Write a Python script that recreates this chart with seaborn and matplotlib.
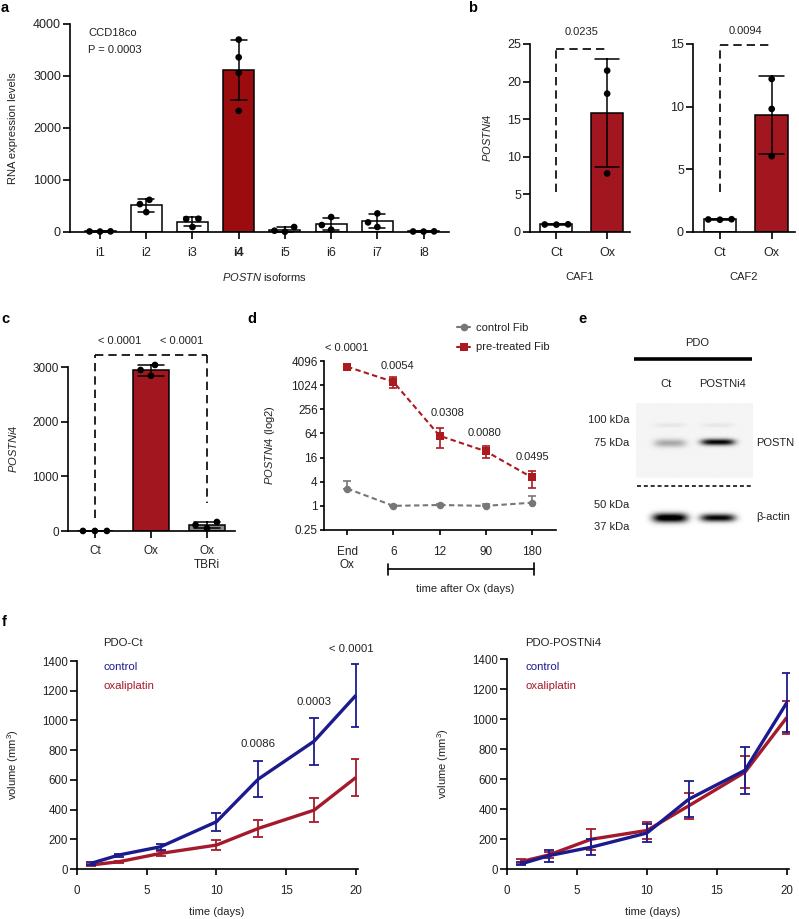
import numpy as np
import pandas as pd
import matplotlib
matplotlib.use("Agg")
import matplotlib.pyplot as plt
import seaborn as sns
from matplotlib.lines import Line2D

# ---------------- data ----------------
a_isoforms = ["i1", "i2", "i3", "i4", "i5", "i6", "i7", "i8"]
a_i1 = [12, 10, 8]
a_i2 = [536, 619, 383]
a_i3 = [255, 250, 96]
a_i4 = [3700, 3360, 3060, 2330]
a_i5 = [96, 25, 5]
a_i6 = [134, 287, 45]
a_i7 = [185, 357, 96]
a_i8 = [12, 10, 8]

b_groups = ["Ct", "Ox"]
b_caf1_ct = [1.0, 0.98, 1.02]
b_caf1_ox = [21.46, 18.4, 7.79]
b_caf2_ct = [1.0, 0.98, 1.02]
b_caf2_ox = [12.21, 9.82, 6.05]

c_groups = ["Ct", "Ox", "Ox\nTBRi"]
c_ct = [1.0, 1.1, 0.9]
c_ox = [2945, 3037, 2841]
c_tbri = [165, 110, 49]

d_labels = ["End\nOx", "6", "12", "90", "180"]
d_pre_mean = [2950, 1240, 56, 23, 5.1]
d_pre_sem = [150, 350, 29, 7.5, 2.3]
d_ctrl_mean = [2.7, 1.0, 1.05, 1.0, 1.2]
d_ctrl_sem = [1.4, 0.05, 0.08, 0.12, 0.6]
d_pvals = ["< 0.0001", "0.0054", "0.0308", "0.0080", "0.0495"]

e_lanes = ["Ct", "POSTNi4"]
e_postn_intensity = [0.30, 0.97]
e_actin_intensity = [1.15, 1.0]

f_days = [1, 3, 6, 10, 13, 17, 20]
f_ct_control = [38, 94, 150, 318, 605, 860, 1169]
f_ct_control_err = [8, 10, 20, 60, 121, 158, 213]
f_ct_oxali = [27, 49, 105, 161, 273, 396, 616]
f_ct_oxali_err = [6, 8, 15, 33, 58, 80, 123]
f_p4_control = [34, 89, 145, 240, 466, 658, 1110]
f_p4_control_err = [10, 40, 52, 60, 122, 157, 197]
f_p4_oxali = [49, 94, 198, 257, 422, 645, 1011]
f_p4_oxali_err = [15, 20, 70, 57, 88, 107, 110]
f_ct_pvals = ["0.0086", "0.0003", "< 0.0001"]

# ---------------- style ----------------
sns.set_theme(style="ticks")
plt.rcParams.update({
    "font.family": ["Liberation Sans", "DejaVu Sans"],
    "mathtext.fontset": "custom",
    "mathtext.rm": "Liberation Sans",
    "mathtext.it": "Liberation Sans:italic",
    "mathtext.bf": "Liberation Sans:bold",
    "font.size": 8,
    "axes.linewidth": 1.2,
    "axes.edgecolor": "black",
    "xtick.color": "black",
    "ytick.color": "black",
    "xtick.labelcolor": "#222222",
    "ytick.labelcolor": "#222222",
    "xtick.labelsize": 8.5,
    "ytick.labelsize": 8.5,
    "axes.labelsize": 8,
    "text.color": "#222222",
    "axes.labelcolor": "#222222",
})

RED_A = "#9a0c0e"
RED = "#a1161f"
RED_D = "#ab1a1f"
GRAY_D = "#777777"
GRAY_BAR = "#888888"
BLUE = "#1b1b8e"
RED_F = "#a51a2b"
DASH = (0, (5, 3))

W, H = 799, 919
fig = plt.figure(figsize=(W / 100, H / 100), dpi=100)


def add_ax(l, t, r, b):
    ax = fig.add_axes([l / W, 1 - b / H, (r - l) / W, (b - t) / H])
    ax.set_facecolor("none")
    return ax


def style(ax, xlen=5, xpad=6, ylen=5, ypad=1.5, lsize=8.5):
    sns.despine(ax=ax)
    ax.tick_params(axis="x", length=xlen, pad=xpad, width=1.2, labelsize=lsize)
    ax.tick_params(axis="y", length=ylen, pad=ypad, width=1.2, labelsize=lsize)


def ylab(ax, text, px, l, r):
    ax.set_ylabel(text, va="center")
    ax.yaxis.set_label_coords((px - l) / (r - l), 0.5)


def xlab(ax, text, py, t, b, cx=0.5):
    ax.set_xlabel(text, va="center")
    ax.xaxis.set_label_coords(cx, (b - py) / (b - t))


def bars_with_points(ax, groups, values, colors, width, capsize, spread):
    df = pd.DataFrame({
        "g": np.repeat(groups, [len(v) for v in values]),
        "v": np.concatenate(values),
    })
    sns.barplot(data=df, x="g", y="v", hue="g", order=groups, hue_order=groups,
                palette=dict(zip(groups, colors)), legend=False, saturation=1,
                errorbar="sd", capsize=capsize, width=width, edgecolor="black",
                linewidth=1.1, err_kws={"color": "black", "linewidth": 1.1}, ax=ax)
    n0 = len(ax.collections)
    sns.swarmplot(data=df, x="g", y="v", order=groups, color="black", size=4.8,
                  linewidth=spread, ax=ax)
    for c in ax.collections[n0:]:
        c.set_edgecolor("none")
        c.set_clip_on(False)
        c.set_zorder(5)
    for ln in ax.lines:
        ln.set_clip_on(False)


# overlay axes in pixel coordinates
ov = fig.add_axes([0, 0, 1, 1])
ov.set_xlim(0, W)
ov.set_ylim(H, 0)
ov.axis("off")

for lab, (x, y) in {"a": (1, 8), "b": (468, 8), "c": (1, 319), "d": (247, 319),
                    "e": (578, 319), "f": (2, 622)}.items():
    ov.text(x, y, lab, fontsize=10.5, fontweight="bold", ha="left", va="center", color="black")

# ---------------- panel a ----------------
L, T, R, B = 70, 24, 449, 232
axa = add_ax(L, T, R, B)
a_colors = ["white", "white", "white", RED_A, "white", "white", "white", "white"]
bars_with_points(axa, a_isoforms, [a_i1, a_i2, a_i3, a_i4, a_i5, a_i6, a_i7, a_i8],
                 a_colors, 0.67, 0.35, 2.4)
axa.set_xlim(-0.65, 7.55)
axa.set_ylim(0, 4000)
axa.set_yticks([0, 1000, 2000, 3000, 4000])
style(axa, lsize=9)
axa.get_xticklabels()[3].set_fontweight("bold")
ylab(axa, "RNA expression levels", 13, L, R)
xlab(axa, r"$\it{POSTN}$ isoforms", 277, T, B, cx=(265 - L) / (R - L))
ov.text(88, 33, "CCD18co", ha="left", va="center")
ov.text(88, 50, "P = 0.0003", ha="left", va="center")

# ---------------- panel b ----------------
for (L, R), ct, ox, ymax, yt, brk_lo, brk_hi, ptxt_y, pv, name, namex in [
        ((530, 630), b_caf1_ct, b_caf1_ox, 25, [0, 5, 10, 15, 20, 25], 5.3, 24.4, 26.6, "0.0235", "CAF1", 582),
        ((693, 795), b_caf2_ct, b_caf2_ox, 15, [0, 5, 10, 15], 3.2, 14.9, 16.0, "0.0094", "CAF2", 747)]:
    T, B = 44, 232
    ax = add_ax(L, T, R, B)
    bars_with_points(ax, b_groups, [ct, ox], ["white", RED], 0.63, 0.48, 3.2)
    ax.set_xlim(-0.52, 1.45)
    ax.set_ylim(0, ymax)
    ax.set_yticks(yt)
    style(ax, lsize=9)
    ax.plot([0, 0], [brk_lo, brk_hi], ls=DASH, color="black", lw=1.2, clip_on=False)
    ax.plot([0, 1], [brk_hi, brk_hi], ls=DASH, color="black", lw=1.2, clip_on=False)
    ax.text(0.5, ptxt_y, pv, ha="center", va="center")
    if name == "CAF1":
        ylab(ax, r"$\it{POSTNi4}$", 487, L, R)
    else:
        ax.set_ylabel("")
    xlab(ax, name, 277, T, B)

# ---------------- panel c ----------------
L, T, R, B = 68, 367, 235, 531
axc = add_ax(L, T, R, B)
bars_with_points(axc, c_groups, [c_ct, c_ox, c_tbri], ["white", RED, GRAY_BAR], 0.64, 0.45, 3.4)
axc.set_xlim(-0.48, 2.5)
axc.set_ylim(0, 3000)
axc.set_yticks([0, 1000, 2000, 3000])
style(axc, xpad=5)
axc.plot([0, 0], [232, 3214], ls=DASH, color="black", lw=1.2, clip_on=False)
axc.plot([0, 2], [3214, 3214], ls=DASH, color="black", lw=1.2, clip_on=False)
axc.plot([2, 2], [3214, 506], ls=DASH, color="black", lw=1.2, clip_on=False)
axc.text(0.45, 3476, "< 0.0001", ha="center", va="center")
axc.text(1.55, 3476, "< 0.0001", ha="center", va="center")
ylab(axc, r"$\it{POSTNi4}$", 13, L, R)
axc.set_xlabel("")

# ---------------- panel d ----------------
L, T, R, B = 324, 361, 556, 530
axd = add_ax(L, T, R, B)
d_pos = list(range(len(d_labels)))
sns.lineplot(x=d_pos, y=d_ctrl_mean, color=GRAY_D, marker="o", markersize=5.4,
             markeredgewidth=0, linewidth=1.5, errorbar=None, ax=axd)
axd.lines[-1].set_linestyle((0, (2.6, 1.6)))
sns.lineplot(x=d_pos, y=d_pre_mean, color=RED_D, marker="s", markersize=5.4,
             markeredgewidth=0, linewidth=1.5, errorbar=None, ax=axd)
axd.lines[-1].set_linestyle((0, (2.6, 1.6)))
axd.errorbar(d_pos, d_ctrl_mean, yerr=[np.zeros(len(d_pos)), d_ctrl_sem], fmt="none",
             ecolor=GRAY_D, elinewidth=1.2, capsize=3, capthick=1.2)
axd.errorbar(d_pos, d_pre_mean, yerr=d_pre_sem, fmt="none",
             ecolor=RED_D, elinewidth=1.2, capsize=3, capthick=1.2)
axd.set_yscale("log", base=2)
axd.set_ylim(0.25, 4096)
yt = [0.25, 1, 4, 16, 64, 256, 1024, 4096]
axd.set_yticks(yt)
axd.set_yticklabels(["0.25", "1", "4", "16", "64", "256", "1024", "4096"])
axd.minorticks_off()
axd.set_xlim(-0.5, 4.52)
axd.set_xticks(d_pos)
axd.set_xticklabels(d_labels, linespacing=1.1)
style(axd, xlen=3.5, xpad=8, ylen=3, ypad=1.5)
d_txt_pos = [(0, 8660), (1.09, 3070), (2.18, 203), (2.98, 64), (4.0, 17)]
for (x, y), t in zip(d_txt_pos, d_pvals):
    axd.text(x, y, t, ha="center", va="center", clip_on=False)
ylab(axd, r"$\it{POSTNi4}$ (log2)", 270, L, R)
handles = [Line2D([], [], color=GRAY_D, marker="o", markersize=5.5, lw=1.5, markeredgewidth=0),
           Line2D([], [], color=RED_D, marker="s", markersize=5.5, lw=1.5, markeredgewidth=0)]
axd.legend(handles, ["control Fib", "pre-treated Fib"], loc="upper left",
           bbox_to_anchor=(457 / W, 1 - 323 / H), bbox_transform=fig.transFigure,
           frameon=False, handlelength=1.2, handletextpad=0.5, labelspacing=0.85,
           fontsize=8, borderpad=0, borderaxespad=0)
ov.plot([388, 534], [569, 569], color="black", lw=1.2)
ov.plot([388, 388], [564, 575], color="black", lw=1.2)
ov.plot([534, 534], [563, 575], color="black", lw=1.2)
ov.text(465, 589, "time after Ox (days)", ha="center", va="center")

# ---------------- panel e (blot) ----------------
x0, x1, y0, y1 = 636, 753, 403, 535
X, Y = np.meshgrid(np.linspace(x0, x1, 240), np.linspace(y0, y1, 270))
img = np.where(Y < 478, 0.96, 1.0)
lane_x = [670, 718]


def band(cx, cy, hw, hh, amp):
    return amp * np.exp(-((X - cx) / hw) ** 4 - ((Y - cy) / hh) ** 2)


for cx in lane_x:
    img = img - band(cx, 425, 16, 2.2, 0.06)
img = img - band(lane_x[0], 443, 16, 4.0, e_postn_intensity[0])
img = img - band(lane_x[1], 442, 17, 3.2, e_postn_intensity[1])
img = img - band(lane_x[0], 518, 17.5, 4.6, e_actin_intensity[0])
img = img - band(lane_x[1], 518, 17.5, 3.9, e_actin_intensity[1])
img = np.clip(img, 0, 1)
ov.imshow(img, cmap="gray", vmin=0, vmax=1, extent=(x0, x1, y1, y0), aspect="auto",
          interpolation="bilinear", zorder=1)
ov.set_xlim(0, W)
ov.set_ylim(H, 0)
ov.plot([637, 752], [486, 486], color="#222222", lw=1.3, ls=(0, (2.2, 1.6)), zorder=2)
ov.plot([634, 752], [359, 359], color="black", lw=2.6, solid_capstyle="butt")
ov.text(697, 343, "PDO", ha="center", va="center")
for cx, t in zip([666, 723], e_lanes):
    ov.text(cx, 384, t, ha="center", va="center")
for y, t in [(420, "100 kDa"), (443, "75 kDa"), (505, "50 kDa"), (527, "37 kDa")]:
    ov.text(629, y, t, ha="right", va="center")
ov.text(756, 443, "POSTN", ha="left", va="center")
ov.text(756, 517, "β-actin", ha="left", va="center")

# ---------------- panel f ----------------
for (L, T, R, B), ctrl, ctrl_e, oxa, oxa_e, title, tx, ylx, xlx in [
        ((77, 661, 358, 869), f_ct_control, f_ct_control_err, f_ct_oxali, f_ct_oxali_err, "PDO-Ct", 103, 13, 217),
        ((507, 659, 789, 869), f_p4_control, f_p4_control_err, f_p4_oxali, f_p4_oxali_err, "PDO-POSTNi4", 525, 443, 653)]:
    ax = add_ax(L, T, R, B)
    df = pd.DataFrame({"day": f_days * 2, "vol": list(oxa) + list(ctrl),
                       "group": ["oxaliplatin"] * len(f_days) + ["control"] * len(f_days)})
    sns.lineplot(data=df, x="day", y="vol", hue="group", hue_order=["oxaliplatin", "control"],
                 palette={"control": BLUE, "oxaliplatin": RED_F}, linewidth=2.4,
                 legend=False, errorbar=None, ax=ax)
    ax.errorbar(f_days, oxa, yerr=oxa_e, fmt="none", ecolor=RED_F, elinewidth=1.3,
                capsize=3.5, capthick=1.3, zorder=3)
    ax.errorbar(f_days, ctrl, yerr=ctrl_e, fmt="none", ecolor=BLUE, elinewidth=1.3,
                capsize=3.5, capthick=1.3, zorder=4)
    for ln in ax.lines:
        ln.set_solid_capstyle("butt")
    ax.lines[1].set_zorder(3.5)
    ax.set_xlim(0, 20.15)
    ax.set_ylim(0, 1400)
    ax.set_xticks([0, 5, 10, 15, 20])
    ax.set_yticks(range(0, 1401, 200))
    style(ax, xlen=4.5, xpad=7, ylen=5, ypad=1.5, lsize=8.3)
    ylab(ax, r"volume (mm$^3$)", ylx, L, R)
    xlab(ax, "time (days)", 912, T, B, cx=(xlx - L) / (R - L))
    ov.text(tx, 643, title, ha="left", va="center", fontsize=8.2)
    ov.text(tx, 667, "control", ha="left", va="center", color=BLUE, fontsize=8.2)
    ov.text(tx, 686, "oxaliplatin", ha="left", va="center", color=RED_F, fontsize=8.2)
    if title == "PDO-Ct":
        for (x, y), t in zip([(13, 841), (17, 1124), (19.7, 1481)], f_ct_pvals):
            ax.text(x, y, t, ha="center", va="center", clip_on=False, fontsize=8.2)

fig.savefig("out.png", dpi=100)
